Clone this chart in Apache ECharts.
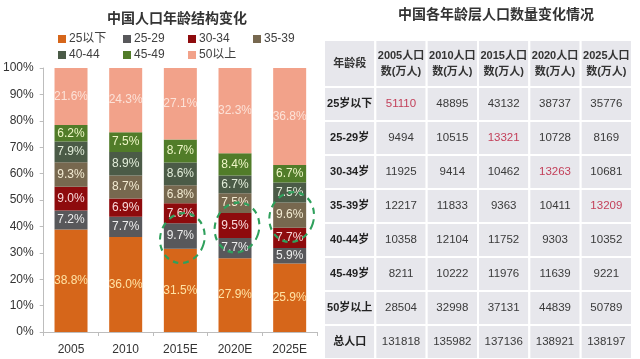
<!DOCTYPE html>
<html>
<head>
<meta charset="utf-8">
<script src="https://cdn.jsdelivr.net/npm/echarts@6/dist/echarts.min.js"></script>
<style>html,body{margin:0;padding:0;background:#fff}#c{width:640px;height:359px}</style>
</head>
<body>
<div id="c"></div>
<script>
// ---- Left chart data (percent shares) ----
const years = ['2005', '2010', '2015E', '2020E', '2025E'];
const groups = ['25以下', '25-29', '30-34', '35-39', '40-44', '45-49', '50以上'];
const shareU25 = [38.8, 36.0, 31.5, 27.9, 25.9];
const share2529 = [7.2, 7.7, 9.7, 7.7, 5.9];
const share3034 = [9.0, 6.9, 7.6, 9.5, 7.7];
const share3539 = [9.3, 8.7, 6.8, 7.5, 9.6];
const share4044 = [7.9, 8.9, 8.6, 6.7, 7.5];
const share4549 = [6.2, 7.5, 8.7, 8.4, 6.7];
const share50p = [21.6, 24.3, 27.1, 32.3, 36.8];
// circled segments: [year index, group index]
const circled = [[2, 1], [3, 2], [4, 3]];

// ---- Right table data (10k persons) ----
const tableHeaders = ['年龄段', '2005人口\n数(万人)', '2010人口\n数(万人)', '2015人口\n数(万人)', '2020人口\n数(万人)', '2025人口\n数(万人)'];
const rowLabels = ['25岁以下', '25-29岁', '30-34岁', '35-39岁', '40-44岁', '45-49岁', '50岁以上', '总人口'];
const pop2005 = [51110, 9494, 11925, 12217, 10358, 8211, 28504, 131818];
const pop2010 = [48895, 10515, 9414, 11833, 12104, 10222, 32998, 135982];
const pop2015 = [43132, 13321, 10462, 9363, 11752, 11976, 37131, 137136];
const pop2020 = [38737, 10728, 13263, 10411, 9303, 11639, 44839, 138921];
const pop2025 = [35776, 8169, 10681, 13209, 10352, 9221, 50789, 138197];
// highlighted cells: [row index, column index]
const highlighted = [[0, 1], [1, 3], [2, 4], [3, 5]];

const shares = [shareU25, share2529, share3034, share3539, share4044, share4549, share50p];
const colors = ['#D6661A', '#58585B', '#8E0B0D', '#77684F', '#4B5B47', '#517C29', '#F2A28A'];
const labelColors = ['#FFE2A4', '#EDEDED', '#F8DADA', '#F3EBD2', '#E2EDDA', '#EEF6C6', '#FCE2D8'];
const narrow = "'Liberation Sans Narrow','Liberation Sans',Arial,sans-serif";
const cjk = "'Liberation Sans','Noto Sans CJK SC',sans-serif";

const barSeries = groups.map((g, i) => ({
  name: g, type: 'bar', stack: 'all', barWidth: 33,
  xAxisIndex: 0, yAxisIndex: 0,
  data: shares[i],
  itemStyle: { color: colors[i] },
  label: {
    show: true, position: 'inside', color: labelColors[i],
    fontSize: 12, fontFamily: narrow,
    formatter: p => p.value.toFixed(1) + '%'
  }
}));

const popCols = [pop2005, pop2010, pop2015, pop2020, pop2025];
const headerCells = tableHeaders.map((h, c) => [c, 0]);
const bodyCells = [];
rowLabels.forEach((r, ri) => { for (let c = 0; c < 6; c++) bodyCells.push([c, ri]); });

function cellText(c, r) {
  return c === 0 ? rowLabels[r] : String(popCols[c - 1][r]);
}
function isHi(c, r) { return highlighted.some(h => h[0] === r && h[1] === c); }

function makeRender(isHeader) {
  return function (params, api) {
    const cx = api.value(0), ry = api.value(1);
    const p = api.coord([cx, ry]);
    const s = api.size([1, 1]);
    let text, font, fill;
    if (isHeader) {
      text = tableHeaders[cx];
      font = "bold 11px " + cjk; fill = '#333';
    } else {
      text = cellText(cx, ry);
      if (cx === 0) { font = "bold 11px " + cjk; fill = '#222'; }
      else { font = "11.5px " + cjk; fill = isHi(cx, ry) ? '#C3405A' : '#3A3A3A'; }
    }
    return {
      type: 'group',
      children: [
        { type: 'rect', shape: { x: p[0] - s[0] / 2, y: p[1] - s[1] / 2, width: s[0], height: s[1] },
          style: { fill: '#E7E7EC', stroke: '#FFFFFF', lineWidth: 2 } },
        { type: 'text', style: { text: text, x: p[0], y: p[1], align: 'center', verticalAlign: 'middle',
          font: font, fill: fill, lineHeight: 16 } }
      ]
    };
  };
}

const colIdx = tableHeaders.map((h, i) => i);

const option = {
  animation: false,
  title: [
    { text: '中国人口年龄结构变化', left: 102, top: 7,
      textStyle: { fontSize: 14, fontWeight: 'bold', color: '#333', fontFamily: cjk } },
    { text: '中国各年龄层人口数量变化情况', left: 393, top: 3,
      textStyle: { fontSize: 14, fontWeight: 'bold', color: '#333', fontFamily: cjk } }
  ],
  legend: {
    data: groups, left: 58, top: 33, width: 270, itemGap: 4, itemWidth: 8, itemHeight: 8,
    icon: 'rect', padding: 0,
    formatter: name => '{t|' + name + '}',
    textStyle: { fontSize: 12, color: '#404040', fontFamily: cjk,
      rich: { t: { width: 50, fontSize: 12, color: '#404040', fontFamily: cjk, padding: [0, 0, 0, -2], lineHeight: 13 } } }
  },
  grid: [
    { left: 37, right: 323, top: 68, bottom: 27 },
    { left: 324, right: 8, top: 40, height: 47 },
    { left: 324, right: 8, top: 87, height: 272 }
  ],
  xAxis: [
    { type: 'category', data: years, gridIndex: 0,
      axisLine: { lineStyle: { color: '#BDBDBD' } },
      axisTick: { show: true, length: 4, lineStyle: { color: '#BDBDBD' } },
      axisLabel: { color: '#333', fontSize: 12, fontFamily: narrow, margin: 12 } },
    { type: 'category', data: colIdx, gridIndex: 1, show: false },
    { type: 'category', data: colIdx, gridIndex: 2, show: false }
  ],
  yAxis: [
    { type: 'value', gridIndex: 0, min: 0, max: 100, interval: 10,
      axisLine: { show: true, lineStyle: { color: '#BDBDBD' } },
      axisTick: { show: true, length: 4, lineStyle: { color: '#BDBDBD' } },
      splitLine: { show: false },
      axisLabel: { color: '#333', fontSize: 12, fontFamily: narrow, margin: 10, formatter: '{value}%' } },
    { type: 'category', data: ['h'], gridIndex: 1, show: false },
    { type: 'category', data: rowLabels.map((r, i) => i), gridIndex: 2, show: false, inverse: true }
  ],
  series: barSeries.concat([
    { type: 'custom', xAxisIndex: 1, yAxisIndex: 1, data: headerCells, renderItem: makeRender(true), silent: true },
    { type: 'custom', xAxisIndex: 2, yAxisIndex: 2, data: bodyCells, renderItem: makeRender(false), silent: true }
  ])
};

const chart = echarts.init(document.getElementById('c'), null, { renderer: 'canvas' });
chart.setOption(option);

// dashed green rings around the highlighted segments, placed from the data
const rings = circled.map(([yi, gi]) => {
  let base = 0;
  for (let k = 0; k < gi; k++) base += shares[k][yi];
  const mid = base + shares[gi][yi] / 2;
  const pt = chart.convertToPixel({ gridIndex: 0 }, [yi, mid]);
  return {
    type: 'circle', x: pt[0] + 2, y: pt[1] + 2, scaleX: 0.92, scaleY: 1.05, rotation: -0.3,
    shape: { cx: 0, cy: 0, r: 24 }, z: 100,
    style: { fill: 'none', stroke: '#2FA05C', lineWidth: 2.2, lineDash: [6, 5], strokeNoScale: true }
  };
});
chart.setOption({ graphic: { elements: rings } });
</script>
</body>
</html>
